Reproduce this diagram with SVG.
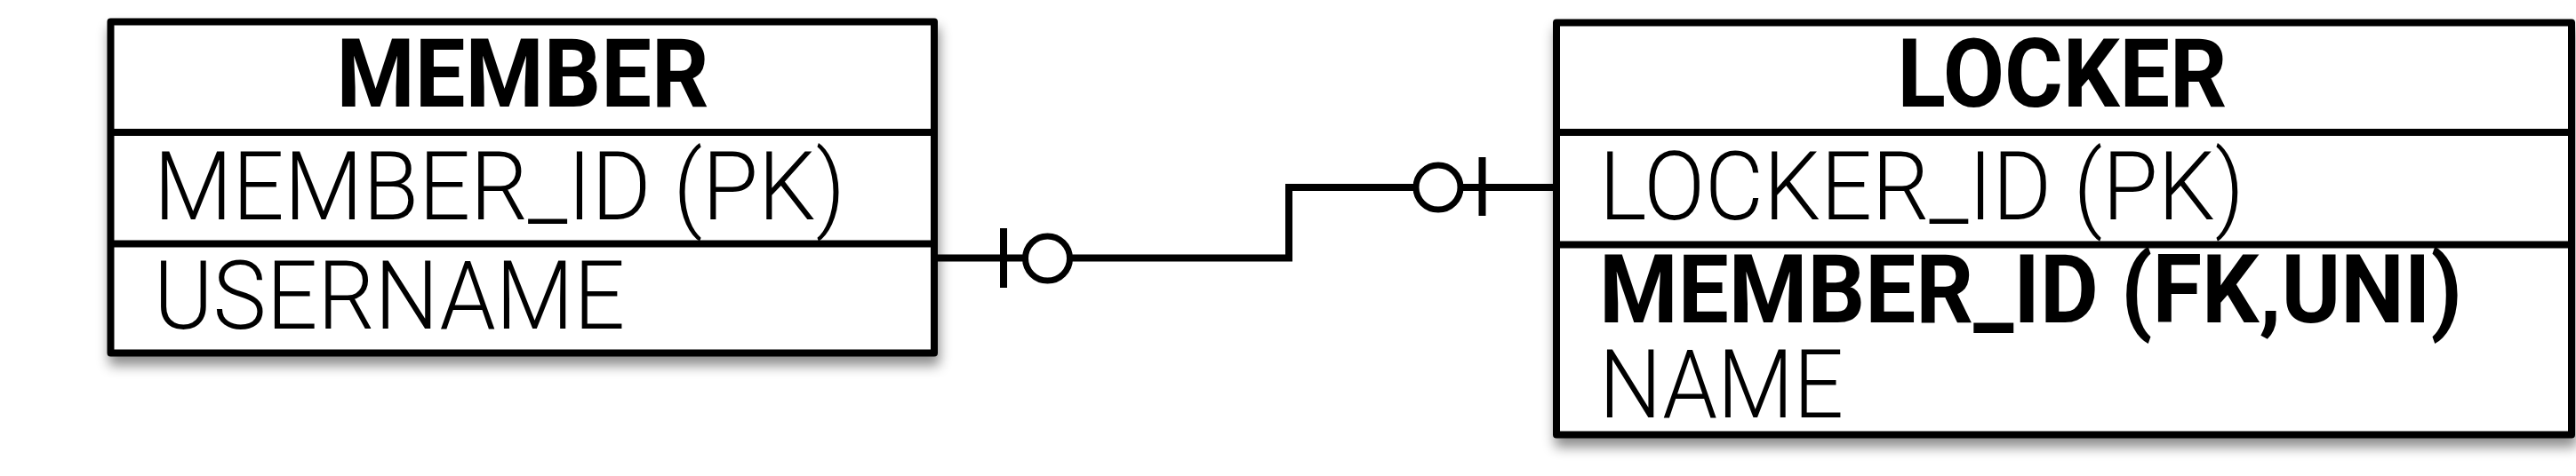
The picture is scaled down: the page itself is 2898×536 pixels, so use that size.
<svg xmlns="http://www.w3.org/2000/svg" width="2898" height="536" viewBox="0 0 2898 536">
  <defs>
    <filter id="shadow" x="-10%" y="-20%" width="120%" height="150%">
      <feDropShadow dx="2" dy="10" stdDeviation="7" flood-color="#000" flood-opacity="0.45"/>
    </filter>
  </defs>
  <style>
    .box { fill: #fff; stroke: #000; stroke-width: 8; stroke-linejoin: round; }
    .div { stroke: #000; stroke-width: 8; }
    .hdr { font-family: Roboto, "Liberation Sans", sans-serif; font-weight: 700; font-size: 107px; fill: #000; text-anchor: middle; }
    .att { font-family: Roboto, "Liberation Sans", sans-serif; font-weight: 300; font-size: 107px; fill: #000; }
    .attb { font-family: Roboto, "Liberation Sans", sans-serif; font-weight: 700; font-size: 107px; fill: #000; }
    .conn { fill: none; stroke: #000; stroke-width: 8; }
    .ring { fill: #fff; stroke: #000; stroke-width: 7; }
  </style>

  <g id="member">
    <rect class="box" x="124.5" y="24.5" width="926.5" height="373" filter="url(#shadow)"/>
    <line class="div" x1="124.5" y1="149" x2="1051" y2="149"/>
    <line class="div" x1="124.5" y1="274.5" x2="1051" y2="274.5"/>
    <text class="hdr" x="588" y="120" textLength="419" lengthAdjust="spacingAndGlyphs">MEMBER</text>
    <text class="att" x="173" y="247" textLength="778" lengthAdjust="spacingAndGlyphs">MEMBER_ID (PK)</text>
    <text class="att" x="173" y="370" textLength="530" lengthAdjust="spacingAndGlyphs">USERNAME</text>
  </g>

  <g id="locker">
    <rect class="box" x="1751" y="25.5" width="1142" height="464" filter="url(#shadow)"/>
    <line class="div" x1="1751" y1="149" x2="2893" y2="149"/>
    <line class="div" x1="1751" y1="275.5" x2="2893" y2="275.5"/>
    <text class="hdr" x="2320" y="120" textLength="371" lengthAdjust="spacingAndGlyphs">LOCKER</text>
    <text class="att" x="1799" y="247" textLength="726" lengthAdjust="spacingAndGlyphs">LOCKER_ID (PK)</text>
    <text class="attb" x="1799" y="363" textLength="971" lengthAdjust="spacingAndGlyphs">MEMBER_ID (FK,UNI)</text>
    <text class="att" x="1799" y="470" textLength="275" lengthAdjust="spacingAndGlyphs">NAME</text>
  </g>

  <g id="connectors">
    <path class="conn" d="M1051,290.5 H1450 V211 H1747"/>
    <line class="conn" x1="1129" y1="257" x2="1129" y2="324"/>
    <circle class="ring" cx="1178.5" cy="291" r="25"/>
    <circle class="ring" cx="1618" cy="211" r="25"/>
    <line class="conn" x1="1667.5" y1="177" x2="1667.5" y2="243"/>
  </g>
</svg>
